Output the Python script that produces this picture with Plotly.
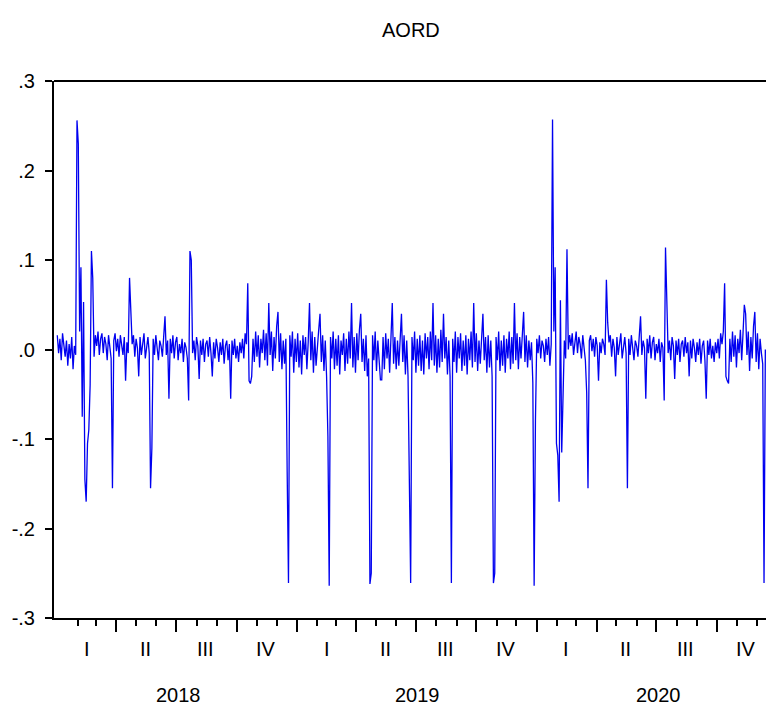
import pandas as pd
import plotly.graph_objects as go

title_text = "AORD"
start_date = "2018-01-01"
step_days = 2

part1 = [
    0.016, -0.004, 0.012, -0.012, 0.018, 0.002, -0.008, 0.010, -0.018, 0.006,
    -0.010, 0.014, -0.022, 0.004, -0.006, 0.256, 0.230, 0.020, 0.092, -0.075,
    0.053, -0.145, -0.170, -0.105, -0.090, -0.040, 0.110, 0.080, -0.008, 0.016,
    0.004, 0.020, -0.006, 0.012, 0.018, -0.004, 0.014, 0.006, -0.012, 0.016,
    0.002, -0.010, -0.155, 0.010, 0.018, -0.002, 0.012, -0.008, 0.016, 0.004,
    -0.006, 0.014, -0.035, 0.008, -0.004, 0.080, 0.030, 0.006, 0.016, -0.008,
    0.012, 0.002, -0.030, 0.014, -0.006, 0.010, 0.018, -0.010, 0.006, 0.014,
    -0.004, -0.155, -0.110, 0.012, -0.006, 0.016, 0.002, -0.012, 0.010, 0.004,
    -0.008, 0.014, 0.037, -0.006, 0.010, -0.055, 0.012, -0.004, 0.016, -0.010,
    0.008, 0.014, -0.012, 0.006, -0.004, 0.012, -0.014, 0.008, 0.002, -0.010,
    -0.057, 0.110, 0.100, -0.004, 0.010, -0.012, 0.014, 0.004, -0.033, 0.010,
    -0.006, 0.012, -0.014, 0.006, 0.010, -0.008, 0.014, -0.004, -0.030, 0.008,
    -0.010, 0.012, 0.002, -0.014, 0.008, -0.006, 0.012, -0.016, 0.004, 0.010,
    -0.012, 0.006, -0.055, 0.010, -0.006, 0.012, -0.010, 0.004, -0.014, 0.008,
    -0.004, 0.012, -0.010, 0.018, 0.006, 0.074, -0.035, -0.038, -0.030, 0.012,
    -0.014, 0.020, -0.008, 0.016, -0.020, 0.012, -0.004, 0.022, -0.012, 0.018,
    -0.018, 0.052, -0.006, 0.020, -0.024, 0.014, -0.010, 0.026, 0.042, -0.014,
    0.018, -0.022, 0.010, -0.016, 0.012, -0.137, -0.261, 0.016, -0.008, 0.020,
]
part2 = [
    -0.026, 0.012, -0.014, 0.018, -0.020, 0.010, -0.028, 0.016, -0.006, 0.014,
    -0.022, 0.008, 0.052, -0.012, 0.020, -0.026, 0.014, -0.018, 0.010, 0.022,
    0.040, -0.014, 0.016, -0.024, 0.010, -0.030, -0.097, -0.264, 0.014, -0.010,
    0.020, -0.022, 0.012, -0.018, 0.016, -0.028, 0.010, -0.006, 0.018, -0.024,
    0.012, -0.016, 0.020, -0.010, 0.052, -0.020, 0.014, -0.026, 0.018, -0.012,
    0.022, 0.040, -0.014, 0.012, -0.024, 0.016, -0.030, -0.010, -0.262, -0.250,
    0.016, -0.012, 0.020, -0.024, 0.010, -0.018, -0.034, -0.034, 0.014, -0.022,
    0.018, -0.010, 0.012, -0.026, 0.020, 0.052, -0.016, 0.014, -0.022, 0.010,
    -0.018, 0.022, 0.040, -0.014, 0.016, -0.028, 0.010, -0.030, -0.126, -0.261,
    0.014, -0.012, 0.020, -0.026, 0.012, -0.018, 0.016, -0.024, 0.010, -0.028,
    0.018, -0.010, 0.014, -0.022, 0.020, -0.012, 0.052, -0.018, 0.016, -0.026,
    0.012, -0.020, 0.022, -0.014, 0.040, -0.010, 0.014, -0.028, 0.010, -0.030,
    -0.261, 0.012, -0.014, 0.020, -0.026, 0.014, -0.010, 0.018, -0.024, 0.010,
    -0.018, 0.016, -0.028, 0.012, -0.012, 0.020, -0.020, 0.052, -0.014, 0.018,
    -0.024, 0.010, -0.016, 0.022, 0.040, -0.012, 0.014, -0.026, 0.016, -0.020,
    0.010, -0.030, -0.261, -0.250, 0.014, -0.012, 0.020, -0.024, 0.010, -0.018,
    0.016, -0.026, 0.012, -0.010, 0.020, -0.022, 0.014, -0.016, 0.052, -0.012,
    0.018, -0.022, 0.014, -0.010, 0.026, 0.042, -0.014, 0.016, -0.020, 0.010,
]
part3 = [
    -0.012, 0.008, -0.037, -0.264, -0.079, 0.012, -0.004, 0.016, -0.010, 0.010,
    0.004, -0.014, 0.012, -0.006, 0.014, -0.018, 0.006, 0.257, 0.020, 0.092,
    -0.105, -0.118, -0.170, 0.055, -0.115, -0.040, 0.010, -0.010, 0.112, 0.000,
    0.016, 0.004, 0.018, -0.006, 0.012, 0.020, -0.004, 0.014, 0.006, -0.010,
    0.016, 0.002, -0.012, -0.048, -0.155, 0.010, 0.016, -0.002, 0.012, -0.008,
    0.014, 0.004, -0.035, 0.008, -0.004, 0.012, 0.006, -0.006, 0.078, 0.030,
    0.008, 0.016, -0.008, 0.012, 0.002, -0.030, 0.014, -0.006, 0.010, 0.018,
    -0.010, 0.006, 0.014, -0.004, -0.155, 0.012, -0.006, 0.016, 0.002, -0.012,
    0.010, 0.004, -0.008, 0.014, 0.037, -0.006, 0.010, 0.002, -0.055, 0.012,
    -0.004, 0.016, -0.010, 0.008, 0.014, -0.012, 0.006, -0.004, 0.012, -0.014,
    0.008, 0.002, -0.057, 0.114, 0.045, -0.004, 0.010, -0.012, 0.014, 0.004,
    -0.033, 0.010, -0.006, 0.012, -0.014, 0.006, 0.010, -0.008, 0.014, -0.004,
    0.008, -0.030, 0.010, -0.010, 0.012, 0.002, -0.014, 0.008, -0.006, 0.012,
    -0.016, 0.004, 0.010, -0.012, -0.055, 0.010, -0.006, 0.012, -0.010, 0.004,
    -0.014, 0.008, -0.004, 0.012, -0.010, 0.018, 0.006, 0.020, 0.074, -0.030,
    -0.035, -0.038, 0.012, -0.014, 0.020, -0.008, 0.016, -0.020, 0.012, -0.004,
    0.022, -0.012, 0.018, 0.050, 0.040, -0.006, 0.020, -0.024, 0.014, -0.010,
    0.026, 0.042, -0.014, 0.018, -0.022, 0.012, -0.004, -0.016, -0.261, 0.000,
]

years = [2018, 2019, 2020]
quarter_labels = ["I", "II", "III", "IV"]
quarter_mid_months = [2, 5, 8, 11]
ytick_vals = [-0.3, -0.2, -0.1, 0.0, 0.1, 0.2, 0.3]
ytick_text = ["-.3", "-.2", "-.1", ".0", ".1", ".2", ".3"]

values = part1 + part2 + part3
dates = pd.date_range(start_date, periods=len(values), freq=f"{step_days}D")

FONT = "Liberation Sans, Arial, sans-serif"

fig = go.Figure()
fig.add_trace(go.Scatter(x=dates, y=values, mode="lines",
                         line=dict(color="#0000f0", width=1.3), hoverinfo="skip"))

major_ticks = list(pd.date_range("2018-04-01", "2020-12-01", freq="QS"))
minor_ticks = list(pd.date_range("2018-02-01", "2020-12-01", freq="MS"))

annotations = []
for y in years:
    for q, m in zip(quarter_labels, quarter_mid_months):
        annotations.append(dict(x=f"{y}-{m:02d}-15", y=-0.058, xref="x", yref="paper",
                                text=q, showarrow=False, yanchor="middle",
                                font=dict(family=FONT, size=20, color="#000")))
    annotations.append(dict(x=f"{y}-07-04", y=-0.143, xref="x", yref="paper",
                            text=str(y), showarrow=False, yanchor="middle",
                            font=dict(family=FONT, size=20, color="#000")))
annotations.append(dict(x=0.502, y=1.095, xref="paper", yref="paper", text=title_text,
                        showarrow=False, yanchor="middle",
                        font=dict(family=FONT, size=20, color="#000")))

fig.update_layout(
    width=766, height=711,
    margin=dict(l=54, r=0, t=81, b=93),
    paper_bgcolor="white", plot_bgcolor="white",
    showlegend=False,
    annotations=annotations,
    shapes=[dict(type="line", xref="paper", yref="paper", x0=0, x1=1, y0=1, y1=1,
                 line=dict(color="black", width=2))],
    xaxis=dict(type="date", range=["2017-12-27", "2020-12-15"],
               showgrid=False, zeroline=False,
               showline=True, linecolor="black", linewidth=2,
               tickmode="array", tickvals=major_ticks, ticks="outside",
               ticklen=12, tickwidth=1.5, tickcolor="black", showticklabels=False,
               minor=dict(tickmode="array", tickvals=minor_ticks, ticks="outside",
                          ticklen=6, tickwidth=1.5, tickcolor="black", showgrid=False)),
    yaxis=dict(range=[-0.3, 0.3], showgrid=False, zeroline=False,
               showline=True, linecolor="black", linewidth=2,
               tickmode="array", tickvals=ytick_vals, ticktext=ytick_text,
               ticks="outside", ticklen=7, tickwidth=1.5, tickcolor="black",
               tickfont=dict(family=FONT, size=20, color="#000"),
               ticklabelstandoff=6),
)

fig.write_html("out.html", config={"displayModeBar": False},
               post_script="document.body.style.margin='0';document.body.style.overflow='hidden';")
